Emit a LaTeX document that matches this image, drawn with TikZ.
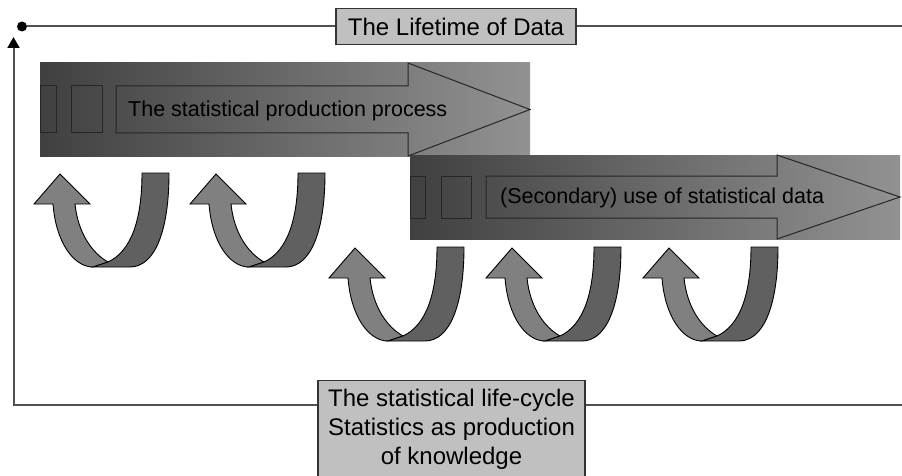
\documentclass[tikz,border=0pt]{standalone}
\usepackage{fontspec}
\setmainfont{Liberation Sans}
\usetikzlibrary{arrows.meta}

\definecolor{framegray}{RGB}{80,80,80}
\definecolor{boxgray}{RGB}{192,192,192}
\definecolor{bandleft}{RGB}{64,64,64}
\definecolor{bandright}{RGB}{146,146,146}
\definecolor{turnlight}{RGB}{128,128,128}
\definecolor{turndark}{RGB}{96,96,96}

\tikzset{
  uturn/.pic={
    % light arm with head
    \draw[fill=turnlight, line width=0.9pt] (0,31) -- (26,1) -- (56,31) -- (41,31)
      .. controls (44,60) and (58,80) .. (74,89) -- (59,94)
      .. controls (40,94) and (22,70) .. (19,31) -- cycle;
    % dark arm
    \draw[fill=turndark, line width=0.9pt] (74,89) .. controls (98,78) and (108,45) .. (108,0)
      -- (135,0) .. controls (135,60) and (120,94) .. (96,94) -- (59,94) -- cycle;
  }
}

\begin{document}
\begin{tikzpicture}[x=1pt, y=-1pt, >={Triangle[length=11pt,width=12pt,color=black]},
    frameline/.style={draw=framegray, line width=2pt},
    titlebox/.style={draw=black!80, fill=boxgray, line width=1.2pt, font=\fontsize{24}{29}\selectfont},
    bandtext/.style={anchor=west, inner sep=0pt, font=\fontsize{21.5}{26}\selectfont},
    bandline/.style={draw=black!85, line width=1pt}]
    \useasboundingbox (0,0) rectangle (902,476);

    % Bands
    \shade [left color=bandleft, right color=bandright] (40,63) rectangle (530,156);
    \draw [bandline] (40,86) rectangle (56,133);
    \draw [bandline] (71,86) rectangle (102,133);
    \draw [bandline] (116,86) -- (408,86) -- (408,63) -- (530,109.5) -- (408,156) -- (408,133) -- (116,133) -- cycle;
    \node [bandtext] (prod) at (128,111) {The statistical production process};

    \shade [left color=bandleft, right color=bandright] (410,155) rectangle (900,239);
    \draw [bandline] (410,176) rectangle (425,218);
    \draw [bandline] (441,176) rectangle (471,218);
    \draw [bandline] (486,176) -- (777,176) -- (777,155) -- (900,197) -- (777,239) -- (777,218) -- (486,218) -- cycle;
    \node [bandtext] (use) at (500,198) {(Secondary) use of statistical data};

    % U-turns
    \pic at (34,173)  {uturn};
    \pic at (190,173) {uturn};
    \pic at (329,247) {uturn};
    \pic at (486,247) {uturn};
    \pic at (643,247) {uturn};

    % Frame
    \node [circle, fill=black, inner sep=0pt, minimum size=10pt] (start) at (22,26.5) {};
    \node [titlebox, minimum width=240pt, minimum height=36pt] (lifetime) at (456,26.5) {The Lifetime of Data};
    \node [titlebox, anchor=north, minimum width=267pt, align=center, inner ysep=9pt] (lifecycle) at (451.5,380)
        {The statistical life-cycle\\Statistics as production\\of knowledge};
    \coordinate (topend) at (902,26.5);
    \coordinate (botend) at (902,405);
    \coordinate (corner) at (13.5,405);
    \coordinate (tip)    at (13.5,37);

    \draw [frameline] (start) -- (lifetime);
    \draw [frameline] (lifetime) -- (topend);
    \draw [frameline] (botend) -- (botend -| lifecycle.east);
    \draw [frameline, ->] (corner -| lifecycle.west) -- (corner) -- (tip);
\end{tikzpicture}
\end{document}
